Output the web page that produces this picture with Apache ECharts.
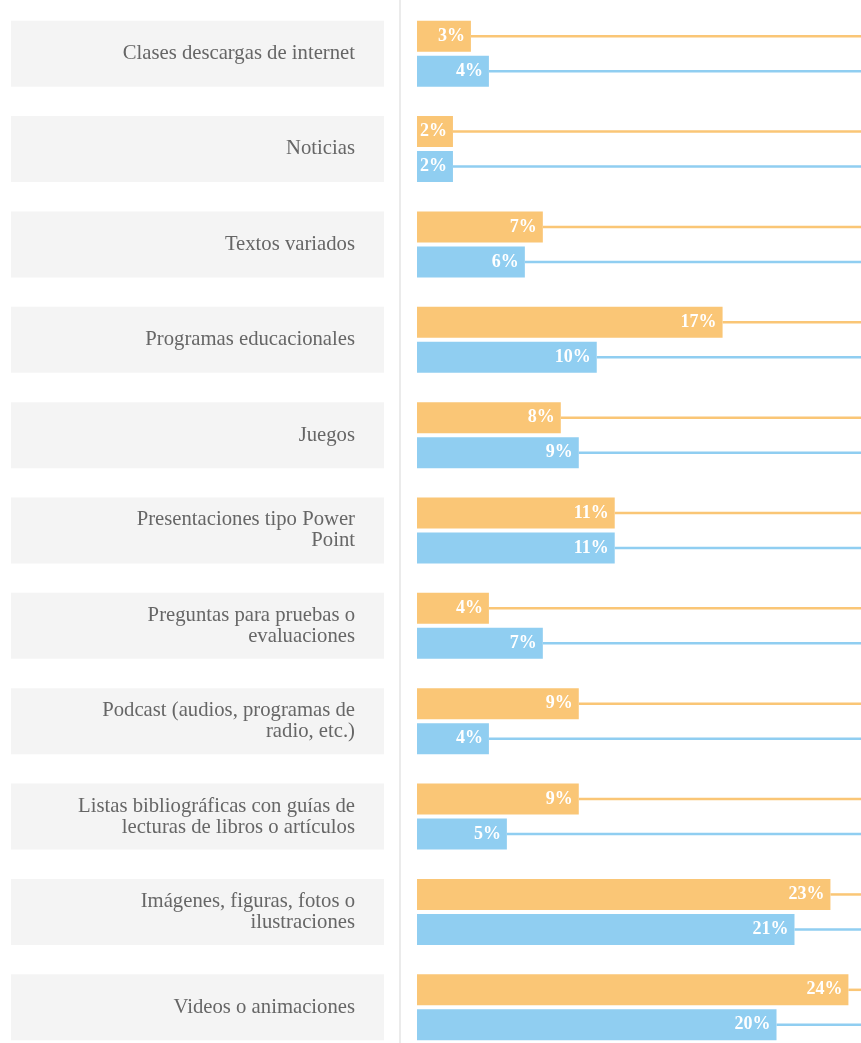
<!DOCTYPE html>
<html>
<head>
<meta charset="utf-8">
<script src="https://cdn.jsdelivr.net/npm/echarts@6/dist/echarts.min.js"></script>
<style>
  html, body { margin: 0; padding: 0; background: #ffffff; }
  #chart { width: 861px; height: 1043px; }
</style>
</head>
<body>
<div id="chart"></div>
<script>
// Resource categories (tick labels, top to bottom)
const categories = [
  'Clases descargas de internet',
  'Noticias',
  'Textos variados',
  'Programas educacionales',
  'Juegos',
  'Presentaciones tipo Power\nPoint',
  'Preguntas para pruebas o\nevaluaciones',
  'Podcast (audios, programas de\nradio, etc.)',
  'Listas bibliográficas con guías de\nlecturas de libros o artículos',
  'Imágenes, figuras, fotos o\nilustraciones',
  'Videos o animaciones'
];

// Percentages per group
const groupA = [3, 2, 7, 17, 8, 11, 4, 9, 9, 23, 24];
const groupB = [4, 2, 6, 10, 9, 11, 7, 4, 5, 21, 20];

const COLOR_A = '#FAC676';
const COLOR_B = '#90CEF1';
const BAR_W = 31;
const BAR_GAP = 4;
const SERIF = '"Liberation Serif", "DejaVu Serif", serif';

const chart = echarts.init(document.getElementById('chart'));

// Thin guide line from the end of a bar to the right edge of the plot
function guideLine(color, sign) {
  return function (params, api) {
    const p = api.coord([api.value(0), api.value(1)]);
    const y = p[1] + sign * (BAR_W + BAR_GAP) / 2;
    const cs = params.coordSys;
    return {
      type: 'line',
      shape: { x1: p[0], y1: y, x2: cs.x + cs.width, y2: y },
      style: { stroke: color, lineWidth: 2.5 },
      z2: 0
    };
  };
}

const barLabel = {
  show: true,
  position: 'insideRight',
  distance: 6,
  formatter: '{c}%',
  color: '#ffffff',
  fontWeight: 'bold',
  fontSize: 18,
  fontFamily: SERIF
};

chart.setOption({
  animation: false,
  backgroundColor: '#ffffff',
  grid: {
    left: 417, right: 0, top: 6, height: 1049,
    outerBoundsMode: 'none',
    containLabel: false
  },
  xAxis: {
    type: 'value', min: 0, max: 24.7, show: false
  },
  yAxis: {
    type: 'category',
    data: categories,
    inverse: true,
    axisLine: { show: false },
    axisTick: { show: false },
    splitLine: { show: false },
    axisLabel: {
      margin: 62,
      color: '#666666',
      fontSize: 20.7,
      fontFamily: SERIF,
      lineHeight: 21,
      padding: [0, 0, 4, 0],
      align: 'right'
    }
  },
  graphic: [{
    type: 'line',
    shape: { x1: 400, y1: 0, x2: 400, y2: 1043 },
    style: { stroke: '#ebebeb', lineWidth: 2 },
    z: 0
  }],
  series: [
    {
      // grey panels behind the category labels
      type: 'custom',
      silent: true,
      clip: false,
      z: 0,
      data: categories.map((c, i) => [0, i]),
      encode: { x: 0, y: 1 },
      renderItem: function (params, api) {
        const p = api.coord([0, api.value(1)]);
        const h = BAR_W * 2 + BAR_GAP;
        return {
          type: 'rect',
          shape: { x: 11, y: p[1] - h / 2, width: 373, height: h },
          style: { fill: '#f4f4f4' }
        };
      }
    },
    {
      type: 'custom',
      silent: true,
      z: 1,
      data: groupA.map((v, i) => [v, i]),
      encode: { x: 0, y: 1 },
      renderItem: guideLine(COLOR_A, -1)
    },
    {
      type: 'custom',
      silent: true,
      z: 1,
      data: groupB.map((v, i) => [v, i]),
      encode: { x: 0, y: 1 },
      renderItem: guideLine(COLOR_B, 1)
    },
    {
      name: 'A',
      type: 'bar',
      data: groupA,
      barWidth: BAR_W,
      barGap: (BAR_GAP / BAR_W * 100) + '%',
      itemStyle: { color: COLOR_A },
      label: barLabel,
      z: 2
    },
    {
      name: 'B',
      type: 'bar',
      data: groupB,
      barWidth: BAR_W,
      barGap: (BAR_GAP / BAR_W * 100) + '%',
      itemStyle: { color: COLOR_B },
      label: barLabel,
      z: 2
    }
  ]
});
</script>
</body>
</html>
